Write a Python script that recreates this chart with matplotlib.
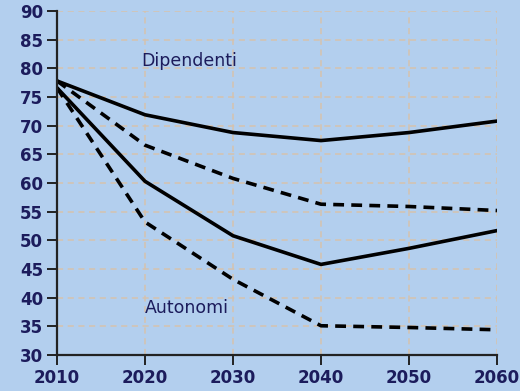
import numpy as np
import matplotlib.pyplot as plt

anni = [2010, 2020, 2030, 2040, 2050, 2060]
dip_solida = [77.8, 71.9, 68.8, 67.4, 68.8, 70.8]
dip_tratteggio = [77.8, 66.6, 60.8, 56.3, 55.9, 55.2]
aut_solida = [76.6, 60.3, 50.8, 45.8, 48.6, 51.7]
aut_tratteggio = [76.6, 53.2, 43.2, 35.1, 34.8, 34.4]

sfondo = '#b3cfee'
blu_testo = '#1c1c5c'

fig = plt.figure(figsize=(5.2, 3.91), dpi=100, facecolor=sfondo)
ax = fig.add_axes([57 / 520, 36 / 391, 440 / 520, 344 / 391])
ax.set_facecolor(sfondo)

ax.plot(anni, dip_solida, color='black', lw=2.6)
ax.plot(anni, dip_tratteggio, color='black', lw=2.6, ls=(0, (3, 2)))
ax.plot(anni, aut_solida, color='black', lw=2.6)
ax.plot(anni, aut_tratteggio, color='black', lw=2.6, ls=(0, (3, 2)))

ax.text(2025, 81.3, 'Dipendenti', color=blu_testo, fontsize=12.5, ha='center', va='center')
ax.text(2024.7, 38.2, 'Autonomi', color=blu_testo, fontsize=12.5, ha='center', va='center')

ax.set_xlim(2010, 2060)
ax.set_ylim(30, 90)
ax.set_xticks(anni)
ax.set_yticks(np.arange(30, 91, 5))
ax.grid(True, color='#d6c2ae', ls=(0, (4, 3)), lw=1.1)
ax.set_axisbelow(True)

for lato in ['top', 'right']:
    ax.spines[lato].set_visible(False)
for lato in ['left', 'bottom']:
    ax.spines[lato].set_color('#222222')
    ax.spines[lato].set_linewidth(1.6)

ax.tick_params(direction='out', length=7, width=1.4, color='#222222',
               labelsize=12, labelcolor=blu_testo, pad=3)
for lab in ax.get_xticklabels() + ax.get_yticklabels():
    lab.set_fontweight('bold')

fig.savefig('out.png', dpi=100, facecolor=sfondo)
